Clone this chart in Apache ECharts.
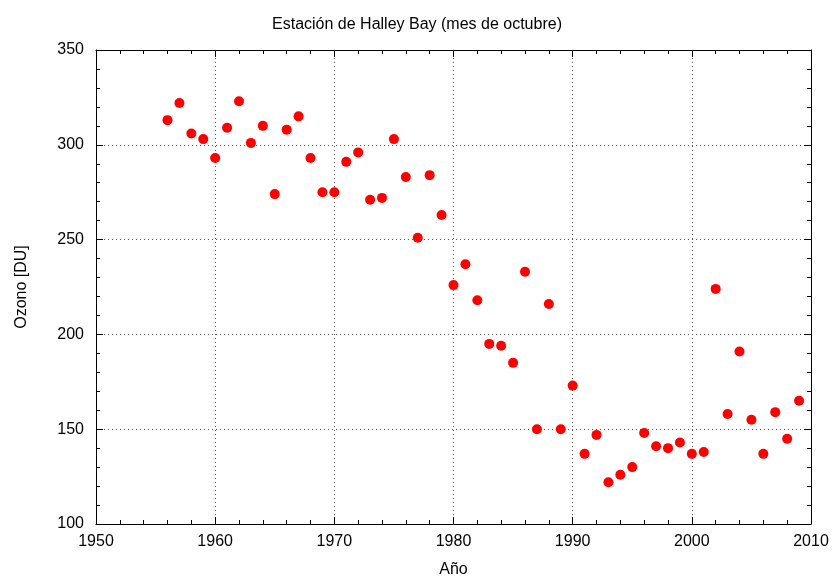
<!DOCTYPE html>
<html>
<head>
    <meta charset="utf-8">
    <script src="https://cdn.jsdelivr.net/npm/echarts@6/dist/echarts.min.js"></script>
    <style>
        *{
            margin:0;
            padding:0;
        }
    </style>
</head>
<body>
    <div id="main" style="width: 834px;height:578px;"></div>
    <script type="text/javascript">

    // Halley Bay, October mean ozone
    var years = [1956,1957,1958,1959,1960,1961,1962,1963,1964,1965,1966,1967,1968,1969,1970,
                 1971,1972,1973,1974,1975,1976,1977,1978,1979,1980,1981,1982,1983,1984,1985,
                 1986,1987,1988,1989,1990,1991,1992,1993,1994,1995,1996,1997,1998,1999,2000,
                 2001,2002,2003,2004,2005,2006,2007,2008,2009];
    var ozone = [313,322,306,303,293,309,323,301,310,274,308,315,293,275,275,
                 291,296,271,272,303,283,251,284,263,226,237,218,195,194,185,
                 233,150,216,150,173,137,147,122,126,130,148,141,140,143,137,
                 138,224,158,191,155,137,159,145,165];

    var points = [];
    for (var i = 0; i < years.length; i++) {
        points.push([years[i], ozone[i]]);
    }

    var font = 'Liberation Sans';
    var myChart = echarts.init(document.getElementById('main'));

    var frameAxis = function (pos, min, max, interval) {
        return {
            type: 'value',
            position: pos,
            min: min,
            max: max,
            interval: interval,
            axisLine: { show: true, onZero: false, lineStyle: { color: '#000', width: 1 } },
            axisTick: { show: true, inside: true, length: 7, lineStyle: { color: '#000' } },
            minorTick: { show: true, splitNumber: 5, length: 4, lineStyle: { color: '#000' } },
            axisLabel: { show: false },
            splitLine: { show: false }
        };
    };

    myChart.setOption({
        animation: false,
        title: {
            text: 'Estación de Halley Bay (mes de octubre)',
            left: 'center',
            top: 12,
            textStyle: { fontFamily: font, fontSize: 16, fontWeight: 'normal', color: '#000' }
        },
        grid: { left: 96, right: 23, top: 50, bottom: 54, outerBoundsMode: 'none' },
        xAxis: [{
            type: 'value',
            position: 'bottom',
            min: 1950,
            max: 2010,
            interval: 10,
            name: 'Año',
            nameLocation: 'middle',
            nameGap: 38,
            nameTextStyle: { fontFamily: font, fontSize: 16, color: '#000' },
            axisLine: { show: true, onZero: false, lineStyle: { color: '#000', width: 1 } },
            axisTick: { show: true, inside: true, length: 7, lineStyle: { color: '#000' } },
            minorTick: { show: true, splitNumber: 5, length: 4, lineStyle: { color: '#000' } },
            axisLabel: {
                fontFamily: font, fontSize: 16, color: '#000', margin: 10,
                formatter: function (v) { return String(v); }
            },
            splitLine: { show: true, lineStyle: { color: '#555', type: [1, 3], width: 1 } }
        }, frameAxis('top', 1950, 2010, 10)],
        yAxis: [{
            type: 'value',
            position: 'left',
            min: 100,
            max: 350,
            interval: 50,
            name: 'Ozono [DU]',
            nameLocation: 'middle',
            nameGap: 66,
            nameTextStyle: { fontFamily: font, fontSize: 16, color: '#000' },
            axisLine: { show: true, onZero: false, lineStyle: { color: '#000', width: 1 } },
            axisTick: { show: true, inside: true, length: 7, lineStyle: { color: '#000' } },
            minorTick: { show: true, splitNumber: 5, length: 4, lineStyle: { color: '#000' } },
            axisLabel: { fontFamily: font, fontSize: 16, color: '#000', margin: 12 },
            splitLine: { show: true, lineStyle: { color: '#555', type: [1, 3], width: 1 } }
        }, frameAxis('right', 100, 350, 50)],
        series: [{
            type: 'scatter',
            data: points,
            symbol: 'circle',
            symbolSize: 10,
            itemStyle: { color: '#ff0000', opacity: 1 }
        }]
    });
</script>
</body>
</html>
